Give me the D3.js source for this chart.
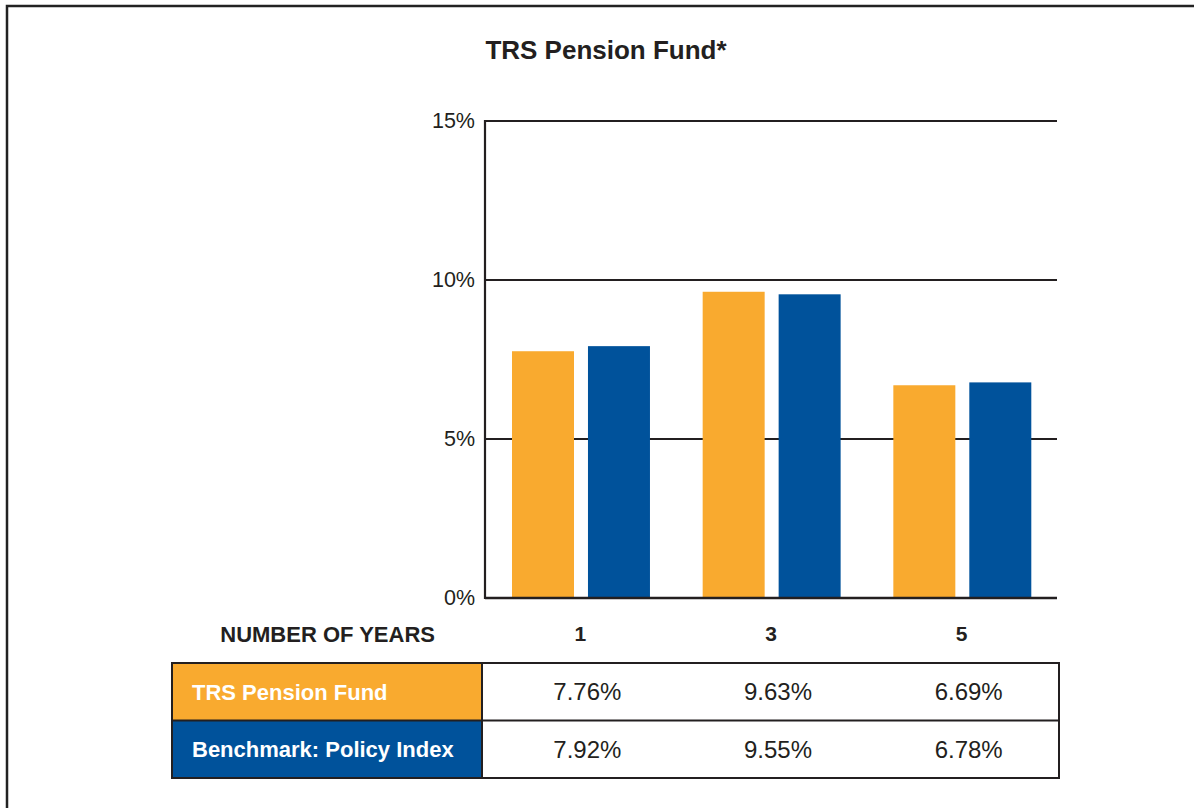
<!DOCTYPE html>
<html>
<head>
<meta charset="utf-8">
<script src="https://cdn.jsdelivr.net/npm/d3@7"></script>
<style>
  html, body { margin: 0; padding: 0; background: #fff; }
  svg { display: block; }
  .narrow { font-family: "Liberation Sans Narrow", "Arial Narrow", "Liberation Sans", sans-serif; }
  .reg { font-family: "Liberation Sans", Arial, sans-serif; }
</style>
</head>
<body>
<svg id="chart" width="1194" height="808"></svg>
<script>
var years = ["1", "3", "5"];
var seriesNames = ["TRS Pension Fund", "Benchmark: Policy Index"];
var fundValues = [7.76, 9.63, 6.69];
var benchValues = [7.92, 9.55, 6.78];
var yTicks = [0, 5, 10, 15];
var colors = ["#f9aa2f", "#00529b"];

(function () {
    var svg = d3.select("#chart");

    // page frame (only top and left edges fall inside the picture)
    svg.append("path")
        .attr("d", "M7,808V6H1194")
        .attr("fill", "none")
        .attr("stroke", "#222")
        .attr("stroke-width", 2.5);

    svg.append("text")
        .attr("class", "narrow")
        .attr("x", 606)
        .attr("y", 59)
        .attr("text-anchor", "middle")
        .attr("font-size", 26)
        .attr("font-weight", "bold")
        .attr("fill", "#231f20")
        .text("TRS Pension Fund*");

    var plotLeft = 485, plotRight = 1057, plotTop = 121, plotBottom = 598;

    var x = d3.scaleBand().domain(years).range([plotLeft, plotRight]);
    var inner = d3.scaleBand().domain([0, 1]).range([27, x.bandwidth() - 25.7]).paddingInner(0.184);
    var y = d3.scaleLinear().domain([0, 15]).range([plotBottom, plotTop]);

    // gridlines
    svg.append("g")
        .selectAll("line")
        .data(yTicks.filter(function (d) { return d > 0; }))
        .enter()
        .append("line")
        .attr("x1", plotLeft)
        .attr("x2", plotRight)
        .attr("y1", function (d) { return y(d); })
        .attr("y2", function (d) { return y(d); })
        .attr("stroke", "#231f20")
        .attr("stroke-width", 1.8);

    // bars
    var rows = [fundValues, benchValues];
    var groups = svg.append("g")
        .selectAll("g")
        .data(years)
        .enter()
        .append("g")
        .attr("transform", function (d) { return "translate(" + x(d) + ",0)"; });

    groups.selectAll("rect")
        .data(function (d, i) { return rows.map(function (r, s) { return { s: s, v: r[i] }; }); })
        .enter()
        .append("rect")
        .attr("x", function (d) { return inner(d.s); })
        .attr("width", inner.bandwidth())
        .attr("y", function (d) { return y(d.v); })
        .attr("height", function (d) { return plotBottom - y(d.v); })
        .attr("fill", function (d) { return colors[d.s]; });

    // axes
    var yAxis = svg.append("g")
        .attr("transform", "translate(" + plotLeft + ",0)")
        .call(d3.axisLeft(y).tickValues(yTicks).tickSize(0).tickPadding(10).tickFormat(function (d) { return d + "%"; }));
    yAxis.select(".domain").remove();
    yAxis.selectAll("text")
        .attr("class", "reg")
        .attr("font-size", 21.5)
        .attr("fill", "#231f20")
        .attr("dy", "0.3em");

    svg.append("line")
        .attr("x1", plotLeft).attr("x2", plotLeft)
        .attr("y1", plotTop - 1).attr("y2", plotBottom + 1)
        .attr("stroke", "#231f20").attr("stroke-width", 2.2);
    svg.append("line")
        .attr("x1", plotLeft).attr("x2", plotRight)
        .attr("y1", plotBottom).attr("y2", plotBottom)
        .attr("stroke", "#231f20").attr("stroke-width", 2.6);

    var xAxis = svg.append("g")
        .attr("transform", "translate(0," + plotBottom + ")")
        .call(d3.axisBottom(x).tickSize(0).tickPadding(28));
    xAxis.select(".domain").remove();
    xAxis.selectAll("text")
        .attr("class", "narrow")
        .attr("font-size", 21)
        .attr("font-weight", "bold")
        .attr("fill", "#231f20");

    svg.append("text")
        .attr("class", "narrow")
        .attr("x", 435)
        .attr("y", 642)
        .attr("text-anchor", "end")
        .attr("font-size", 22)
        .attr("font-weight", "bold")
        .attr("fill", "#231f20")
        .text("NUMBER OF YEARS");

    // table
    var tLeft = 172, tSplit = 482, tRight = 1059;
    var rowY = d3.scaleBand().domain([0, 1]).range([663, 778]);

    var tr = svg.append("g")
        .selectAll("g")
        .data(seriesNames)
        .enter()
        .append("g")
        .attr("transform", function (d, i) { return "translate(0," + rowY(i) + ")"; });

    tr.append("rect")
        .attr("x", tLeft)
        .attr("width", tSplit - tLeft)
        .attr("height", rowY.bandwidth())
        .attr("fill", function (d, i) { return colors[i]; });

    tr.append("text")
        .attr("class", "narrow")
        .attr("x", tLeft + 20)
        .attr("y", rowY.bandwidth() / 2)
        .attr("dy", "0.36em")
        .attr("font-size", 22)
        .attr("font-weight", "bold")
        .attr("fill", "#fff")
        .text(function (d) { return d; });

    tr.selectAll(".val")
        .data(function (d, i) { return rows[i]; })
        .enter()
        .append("text")
        .attr("class", "val reg")
        .attr("x", function (d, i) { return x(years[i]) + x.bandwidth() / 2 + 7; })
        .attr("y", rowY.bandwidth() / 2)
        .attr("dy", "0.36em")
        .attr("text-anchor", "middle")
        .attr("font-size", 24)
        .attr("fill", "#231f20")
        .text(function (d) { return d.toFixed(2) + "%"; });

    var grid = svg.append("g")
        .attr("fill", "none")
        .attr("stroke", "#231f20")
        .attr("stroke-width", 2);
    grid.append("rect")
        .attr("x", tLeft).attr("y", 663)
        .attr("width", tRight - tLeft).attr("height", 778 - 663);
    grid.append("line")
        .attr("x1", tLeft).attr("x2", tRight)
        .attr("y1", rowY(1)).attr("y2", rowY(1));
    grid.append("line")
        .attr("x1", tSplit).attr("x2", tSplit)
        .attr("y1", 663).attr("y2", 778);
})();
</script>
</body>
</html>
